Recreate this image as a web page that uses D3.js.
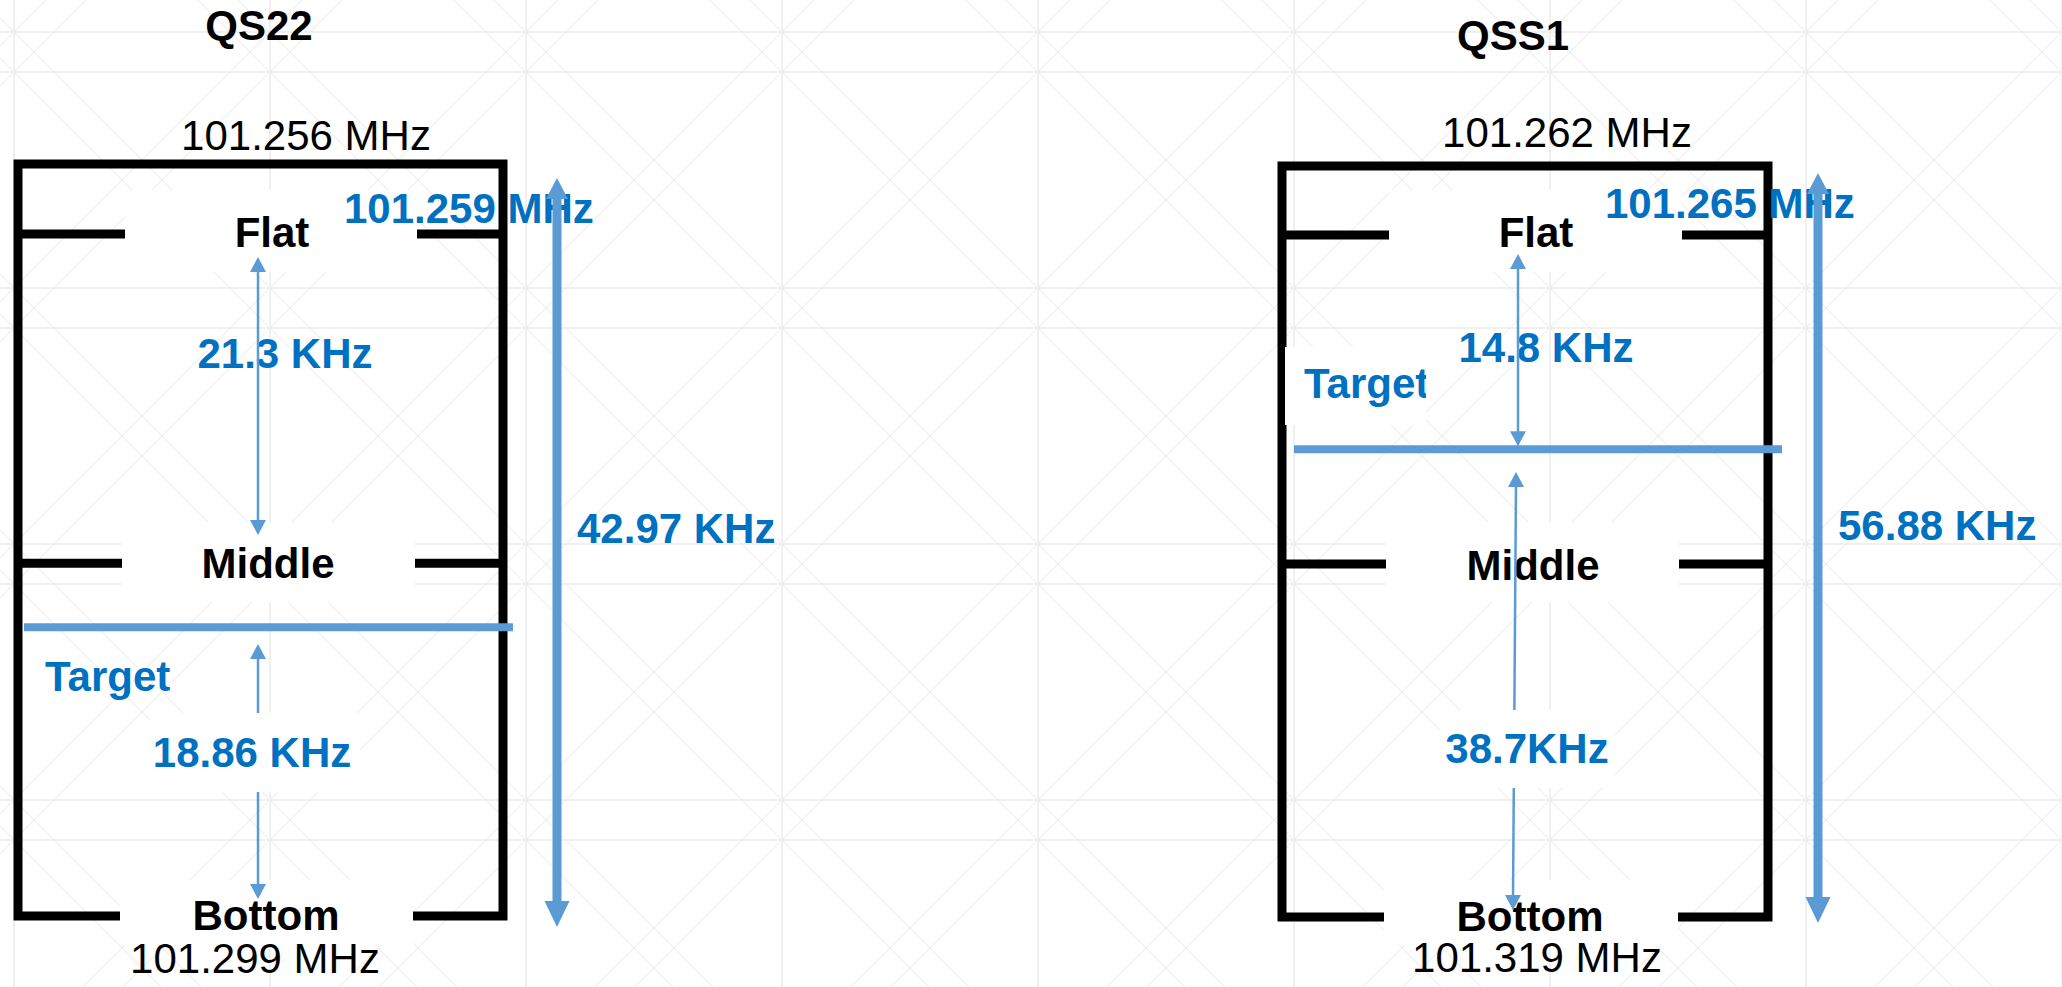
<!DOCTYPE html>
<html><head><meta charset="utf-8">
<script src="https://cdn.jsdelivr.net/npm/d3@7"></script>
<style>html,body{margin:0;padding:0;background:#fff;overflow:hidden}svg{display:block}</style>
</head><body><svg id="c" width="2062" height="987"></svg>
<script>
// ---------------- data ----------------
const panels = ["QS22", "QSS1"];
const topFreq = ["101.256 MHz", "101.262 MHz"];
const flatFreq = ["101.259 MHz", "101.265 MHz"];
const bottomFreq = ["101.299 MHz", "101.319 MHz"];
const totalSpan = ["42.97 KHz", "56.88 KHz"];
const upperSpan = ["21.3 KHz", "14.8 KHz"];
const lowerSpan = ["18.86 KHz", "38.7KHz"];
const levelNames = ["Flat", "Middle", "Bottom"];
const targetName = "Target";
// depth of each marker on the diagram's 0-100 scale (0 = top edge, 100 = bottom edge)
const flatLevel = [9.3, 9.2];
const middleLevel = [53.1, 53.0];
const targetLevel = [61.6, 37.7];

// ---------------- layout ----------------
const W = 2062, H = 987;
const BLACK = "#000", BLUE_T = "#0070C0", BLUE_L = "#5B9BD5";
const FONT = "'Liberation Sans', Arial, sans-serif";
const FS = 42;
const L = [
  {left:18, right:503, top:164, bottom:916,
   title:[259,40], topF:[306,150], flat:[272,247], flatF:[344,223],
   up:{x:258, yTop:257, yBot:535, lx:285, ly:368, box:null},
   mid:[268,578],
   target:{x1:24, x2:513, lx:45, ly:691, box:null},
   low:{xTop:258, xBot:258, yTop:644, yBot:899, lx:252, ly:767, box:[150,713,360,792]},
   bot:[266,930], botF:[255,973],
   big:{x:557, y1:178, y2:927}, total:[577,543],
   flatBox:[125,190,417,272], midBox:[122,522,415,602], botBox:[120,880,413,945]},
  {left:1282, right:1768, top:166, bottom:917,
   title:[1513,50], topF:[1567,147], flat:[1536,247], flatF:[1605,218],
   up:{x:1518, yTop:254, yBot:null, lx:1546, ly:362, box:null},
   mid:[1533,580],
   target:{x1:1294, x2:1782, lx:1304, ly:398, box:[1285,347,1426,425]},
   low:{xTop:1516, xBot:1513, yTop:472, yBot:910, lx:1527, ly:763, box:[1440,710,1615,788]},
   bot:[1530,931], botF:[1537,972],
   big:{x:1818, y1:173, y2:923}, total:[1838,540],
   flatBox:[1389,190,1682,272], midBox:[1386,522,1679,602], botBox:[1384,880,1678,945]}
];

const svg = d3.select("#c");
svg.append("rect").attr("width", W).attr("height", H).attr("fill", "#fff");

// ---------------- background grid ----------------
const gGrid = svg.append("g");
const vx = d3.range(14, W + 2, 256);
const hy = d3.range(32, H, 256).flatMap(y => [y, y + 40]).filter(y => y < H);
gGrid.selectAll("line.v").data(vx).join("line").attr("class","v")
  .attr("x1", d => d).attr("x2", d => d).attr("y1", 0).attr("y2", H)
  .attr("stroke", "#ebebeb").attr("stroke-width", 1.5);
gGrid.selectAll("line.h").data(hy).join("line").attr("class","h")
  .attr("x1", 0).attr("x2", W).attr("y1", d => d).attr("y2", d => d)
  .attr("stroke", "#ebebeb").attr("stroke-width", 1.5);
const diag = d3.range(-10, 6).flatMap(k => [18 + 256*k, 58 + 256*k]);
gGrid.selectAll("line.d").data(diag).join("line").attr("class","d")
  .attr("x1", 0).attr("y1", d => d).attr("x2", W).attr("y2", d => d + W)
  .attr("stroke", "#efefef").attr("stroke-width", 1.2);
const anti = d3.range(0, 13).flatMap(k => [46 + 256*k, 86 + 256*k]);
gGrid.selectAll("line.a").data(anti).join("line").attr("class","a")
  .attr("x1", 0).attr("y1", d => d).attr("x2", W).attr("y2", d => d - W)
  .attr("stroke", "#efefef").attr("stroke-width", 1.2);

// ---------------- helpers ----------------
function txt(g, s, x, y, opt) {
  return g.append("text").attr("x", x).attr("y", y).text(s)
    .attr("font-family", FONT).attr("font-size", FS)
    .attr("font-weight", opt.bold ? 700 : 400)
    .attr("fill", opt.color || BLACK)
    .attr("text-anchor", opt.anchor || "middle");
}
function whiteBox(g, b) {
  if (!b) return;
  g.append("rect").attr("x", b[0]).attr("y", b[1]).attr("width", b[2]-b[0]).attr("height", b[3]-b[1]).attr("fill", "#fff");
}
function head(g, x, yTip, dir, w, h) { // dir: -1 up, +1 down
  const yb = yTip - dir * h;
  g.append("path").attr("d", `M${x},${yTip}L${x - w/2},${yb}L${x + w/2},${yb}Z`).attr("fill", BLUE_L);
}
function dblArrow(g, x1, y1, x2, y2, sw, w, h) {
  g.append("line").attr("x1", x1).attr("y1", y1 + h*0.8).attr("x2", x2).attr("y2", y2 - h*0.8)
    .attr("stroke", BLUE_L).attr("stroke-width", sw);
  head(g, x1, y1, -1, w, h);
  head(g, x2, y2, 1, w, h);
}

// ---------------- panels ----------------
panels.forEach((name, i) => {
  const l = L[i];
  const g = svg.append("g").attr("class", "panel");
  const y = d3.scaleLinear().domain([0, 100]).range([l.top, l.bottom]);
  const yFlat = y(flatLevel[i]), yMid = y(middleLevel[i]), yTarget = y(targetLevel[i]);

  // box outline
  g.append("path")
    .attr("d", `M${l.left},${y(100)}V${y(0)}H${l.right}V${y(100)}Z`)
    .attr("fill", "none").attr("stroke", BLACK).attr("stroke-width", 9).attr("stroke-linejoin", "miter");
  // level ticks (Flat / Middle)
  [yFlat, yMid].forEach(yy => {
    g.append("line").attr("x1", l.left).attr("x2", l.right).attr("y1", yy).attr("y2", yy)
      .attr("stroke", BLACK).attr("stroke-width", 9);
  });
  // label boxes (white fill hides lines and grid)
  whiteBox(g, l.flatBox); whiteBox(g, l.midBox); whiteBox(g, l.botBox);

  // texts
  txt(g, name, l.title[0], l.title[1], {bold:true});
  txt(g, topFreq[i], l.topF[0], l.topF[1], {});
  txt(g, levelNames[0], l.flat[0], l.flat[1], {bold:true});
  txt(g, flatFreq[i], l.flatF[0], l.flatF[1], {bold:true, color:BLUE_T, anchor:"start"});
  txt(g, upperSpan[i], l.up.lx, l.up.ly, {bold:true, color:BLUE_T});
  txt(g, levelNames[1], l.mid[0], l.mid[1], {bold:true});
  txt(g, levelNames[2], l.bot[0], l.bot[1], {bold:true});
  txt(g, bottomFreq[i], l.botF[0], l.botF[1], {});
  txt(g, totalSpan[i], l.total[0], l.total[1], {bold:true, color:BLUE_T, anchor:"start"});

  // target label (QSS1's text box clips the word and covers the frame edge)
  if (l.target.box) {
    whiteBox(g, l.target.box);
    const cid = "clipT" + i;
    const b = l.target.box;
    svg.append("defs").append("clipPath").attr("id", cid).append("rect")
      .attr("x", b[0]).attr("y", b[1]).attr("width", b[2]-b[0]).attr("height", b[3]-b[1]);
    txt(g, targetName, l.target.lx, l.target.ly, {bold:true, color:BLUE_T, anchor:"start"}).attr("clip-path", `url(#${cid})`);
  } else {
    txt(g, targetName, l.target.lx, l.target.ly, {bold:true, color:BLUE_T, anchor:"start"});
  }

  // target line
  g.append("line").attr("x1", l.target.x1).attr("x2", l.target.x2).attr("y1", yTarget).attr("y2", yTarget)
    .attr("stroke", BLUE_L).attr("stroke-width", 8);

  // upper span arrow
  const upBot = l.up.yBot != null ? l.up.yBot : yTarget - 3;
  dblArrow(g, l.up.x, l.up.yTop, l.up.x, upBot, 2.5, 16, 15);
  // lower span arrow
  g.append("line").attr("x1", l.low.xTop).attr("y1", l.low.yTop + 12).attr("x2", l.low.xBot).attr("y2", l.low.yBot - 12)
    .attr("stroke", BLUE_L).attr("stroke-width", 2.5);
  head(g, l.low.xTop, l.low.yTop, -1, 16, 15);
  head(g, l.low.xBot, l.low.yBot, 1, 16, 15);
  whiteBox(g, l.low.box);
  txt(g, lowerSpan[i], l.low.lx, l.low.ly, {bold:true, color:BLUE_T});

  // total span arrow
  g.append("line").attr("x1", l.big.x).attr("x2", l.big.x).attr("y1", l.big.y1 + 18).attr("y2", l.big.y2 - 20)
    .attr("stroke", BLUE_L).attr("stroke-width", 9);
  head(g, l.big.x, l.big.y1, -1, 22, 21);
  head(g, l.big.x, l.big.y2, 1, 25, 26);
});
</script>
</body></html>
